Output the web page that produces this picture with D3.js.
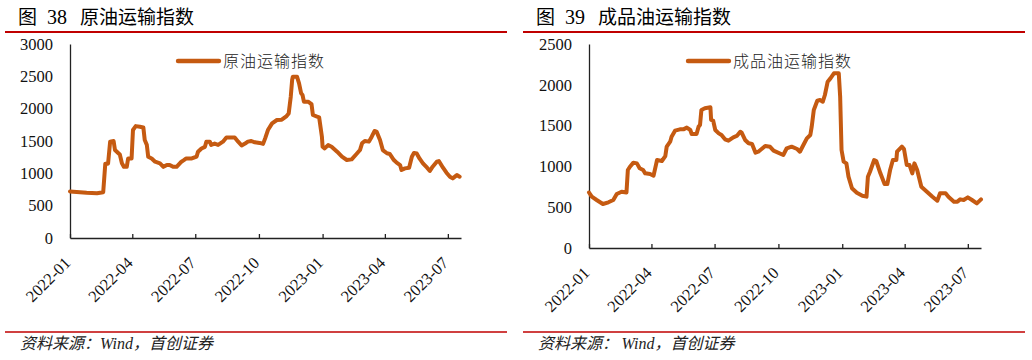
<!DOCTYPE html>
<html>
<head>
<meta charset="utf-8">
<script src="https://cdn.jsdelivr.net/npm/d3@7"></script>
<style>
  body { margin: 0; background: #fff; }
  .axis path, .axis line { stroke: #222; stroke-width: 1.3px; }
  .axis text { font-family: "Liberation Serif", serif; font-size: 16.5px; fill: #111; }
</style>
</head>
<body>
<svg id="chart" width="1032" height="360"></svg>
<script>
// Crude oil transport index (left panel)
var crudeDates = ["2022-01-01","2022-01-25","2022-02-09","2022-02-18","2022-02-21","2022-02-25","2022-02-28","2022-03-05","2022-03-07","2022-03-12",
  "2022-03-14","2022-03-17","2022-03-20","2022-03-24","2022-03-26","2022-03-31","2022-04-02","2022-04-06","2022-04-12","2022-04-17",
  "2022-04-19","2022-04-22","2022-04-24","2022-04-29","2022-05-04","2022-05-11","2022-05-16","2022-05-21","2022-05-25","2022-05-30",
  "2022-06-04","2022-06-11","2022-06-14","2022-06-18","2022-06-26","2022-07-03","2022-07-05","2022-07-10","2022-07-15","2022-07-17",
  "2022-07-22","2022-07-24","2022-07-29","2022-08-03","2022-08-10","2022-08-15","2022-08-22","2022-08-27","2022-09-01","2022-09-06",
  "2022-09-11","2022-09-15","2022-09-20","2022-09-25","2022-10-02","2022-10-07","2022-10-10","2022-10-14","2022-10-20","2022-10-27",
  "2022-11-03","2022-11-10","2022-11-13","2022-11-16","2022-11-18","2022-11-19","2022-11-25","2022-11-28","2022-12-01","2022-12-03",
  "2022-12-05","2022-12-11","2022-12-16","2022-12-18","2022-12-24","2022-12-27","2022-12-31","2023-01-01","2023-01-04","2023-01-09",
  "2023-01-14","2023-01-22","2023-01-29","2023-02-05","2023-02-12","2023-02-19","2023-02-24","2023-02-27","2023-03-03","2023-03-09",
  "2023-03-13","2023-03-17","2023-03-20","2023-03-25","2023-03-29","2023-04-04","2023-04-08","2023-04-14","2023-04-18","2023-04-23",
  "2023-04-25","2023-04-30","2023-05-06","2023-05-10","2023-05-13","2023-05-17","2023-05-21","2023-05-26","2023-06-01","2023-06-05",
  "2023-06-09","2023-06-15","2023-06-18","2023-06-24","2023-06-29","2023-07-04","2023-07-08","2023-07-14","2023-07-18"];
var crudeValues = [720,700,693,708,1150,1150,1490,1500,1360,1310,
  1290,1155,1100,1100,1230,1230,1670,1730,1720,1710,
  1515,1440,1257,1230,1180,1155,1100,1130,1130,1100,
  1100,1180,1200,1230,1230,1260,1335,1385,1410,1490,
  1490,1440,1460,1440,1490,1555,1555,1555,1490,1430,
  1460,1490,1500,1480,1470,1455,1540,1670,1773,1825,
  1830,1886,1925,2185,2443,2494,2494,2392,2237,2211,
  2108,2108,2070,1902,1877,1866,1567,1411,1385,1437,
  1411,1335,1257,1206,1216,1299,1360,1464,1500,1490,
  1567,1654,1645,1515,1360,1310,1300,1206,1165,1128,
  1051,1077,1087,1257,1316,1306,1230,1155,1087,1036,
  1103,1180,1190,1087,1010,948,922,973,948];

// Refined products transport index (right panel)
var productDates = ["2022-01-01","2022-01-05","2022-01-12","2022-01-21","2022-01-29","2022-02-05","2022-02-10","2022-02-17","2022-02-24","2022-02-26",
  "2022-03-01","2022-03-06","2022-03-11","2022-03-15","2022-03-20","2022-03-23","2022-03-30","2022-04-04","2022-04-08","2022-04-09",
  "2022-04-16","2022-04-21","2022-04-23","2022-04-28","2022-04-30","2022-05-05","2022-05-12","2022-05-17","2022-05-22","2022-05-27",
  "2022-05-29","2022-06-05","2022-06-08","2022-06-10","2022-06-12","2022-06-17","2022-06-25","2022-06-26","2022-06-29","2022-07-02",
  "2022-07-07","2022-07-11","2022-07-16","2022-07-21","2022-07-28","2022-08-02","2022-08-07","2022-08-09","2022-08-14","2022-08-19",
  "2022-08-24","2022-08-29","2022-09-02","2022-09-12","2022-09-19","2022-09-24","2022-10-08","2022-10-13","2022-10-20","2022-10-28",
  "2022-11-01","2022-11-06","2022-11-11","2022-11-16","2022-11-18","2022-11-21","2022-11-26","2022-11-30","2022-12-04","2022-12-07",
  "2022-12-11","2022-12-15","2022-12-20","2022-12-27","2022-12-29","2022-12-31","2023-01-03","2023-01-07","2023-01-10","2023-01-15",
  "2023-01-22","2023-01-30","2023-02-05","2023-02-07","2023-02-10","2023-02-16","2023-02-19","2023-02-25","2023-03-03","2023-03-07",
  "2023-03-11","2023-03-15","2023-03-20","2023-03-21","2023-03-28","2023-03-31","2023-04-04","2023-04-08","2023-04-12","2023-04-15",
  "2023-04-19","2023-04-25","2023-05-03","2023-05-11","2023-05-18","2023-05-22","2023-05-30","2023-06-03","2023-06-11","2023-06-16",
  "2023-06-20","2023-06-25","2023-07-01","2023-07-07","2023-07-14","2023-07-20"];
var productValues = [680,629,588,539,560,588,662,690,680,956,
  996,1046,1037,977,956,915,907,886,1037,1078,
  1066,1127,1242,1303,1364,1438,1454,1454,1475,1446,
  1397,1397,1487,1507,1691,1712,1724,1569,1560,1446,
  1405,1385,1332,1315,1356,1373,1425,1413,1324,1283,
  1275,1168,1180,1250,1240,1193,1140,1222,1242,1213,
  1180,1262,1344,1385,1487,1691,1805,1813,1793,1875,
  2038,2079,2141,2141,1854,1201,1058,1037,874,732,
  678,641,629,874,935,1078,1066,915,784,784,
  956,1078,1078,1180,1242,1213,1017,1017,915,1037,
  956,751,690,629,580,670,670,629,568,568,
  596,588,621,588,547,596];

// Axis ticks
var quarterTicks = ["2022-01-01","2022-04-01","2022-07-01","2022-10-01","2023-01-01","2023-04-01","2023-07-01"];
var crudeYTicks = [0, 500, 1000, 1500, 2000, 2500, 3000];
var productYTicks = [0, 500, 1000, 1500, 2000, 2500];

var parseDate = d3.timeParse("%Y-%m-%d");
var lineColor = "#C55A11";
var redColor = "#C00000";

var svg = d3.select("#chart");

// Draw one panel: title, frame lines, axes, series, legend and source
function drawPanel(p) {
  var x = d3.scaleTime()
      .domain([parseDate("2022-01-01"), parseDate("2023-07-20")])
      .range([p.left, p.right]);
  var y = d3.scaleLinear()
      .domain([0, p.yMax])
      .range([p.bottom, p.top]);

  // Title
  var t = svg.append("g");
  t.append("text").attr("x", p.ox + 18).attr("y", 24)
      .style("font-family", "'Noto Sans CJK SC'").style("font-size", "19px").text("图");
  t.append("text").attr("x", p.ox + 47).attr("y", 24)
      .style("font-family", "'Liberation Serif'").style("font-size", "20px").text(p.num);
  t.append("text").attr("x", p.ox + p.titleX).attr("y", 24)
      .style("font-family", "'Noto Sans CJK SC'").style("font-size", "19px").text(p.title);

  // Red rules
  svg.append("line").attr("x1", p.ox + 5).attr("x2", p.ox + 507)
      .attr("y1", 32).attr("y2", 32).attr("stroke", redColor).attr("stroke-width", 2);
  svg.append("line").attr("x1", p.ox + 5).attr("x2", p.ox + 507)
      .attr("y1", 332).attr("y2", 332).attr("stroke", redColor).attr("stroke-width", 1.6);

  // Y axis
  svg.append("g")
      .attr("class", "axis")
      .attr("transform", "translate(" + p.left + ",0)")
      .call(d3.axisLeft(y).tickValues(p.yTicks).tickSize(0).tickPadding(17).tickFormat(d3.format("d")));

  // X axis
  var xa = svg.append("g")
      .attr("class", "axis")
      .attr("transform", "translate(0," + p.bottom + ")")
      .call(d3.axisBottom(x)
        .tickValues(quarterTicks.map(parseDate))
        .tickSizeInner(-4).tickSizeOuter(0)
        .tickFormat(d3.timeFormat("%Y-%m")));
  xa.selectAll("text")
      .attr("x", 0).attr("y", 0).attr("dy", 0)
      .attr("text-anchor", "end")
      .attr("transform", "translate(1,26) rotate(-45)");

  // Series
  var data = p.dates.map(function(d, i) { return {date: parseDate(d), value: p.values[i]}; });
  svg.append("path")
      .datum(data)
      .attr("fill", "none")
      .attr("stroke", lineColor)
      .attr("stroke-width", 4)
      .attr("stroke-linejoin", "round")
      .attr("stroke-linecap", "round")
      .attr("d", d3.line()
        .x(function(d) { return x(d.date); })
        .y(function(d) { return y(d.value); }));

  // Legend
  svg.append("line")
      .attr("x1", p.ox + p.legendX).attr("x2", p.ox + p.legendX + 41)
      .attr("y1", 61).attr("y2", 61)
      .attr("stroke", lineColor).attr("stroke-width", 4.4).attr("stroke-linecap", "round");
  svg.append("text")
      .attr("x", p.ox + p.legendX + 45).attr("y", 66.5)
      .style("font-family", "'Noto Sans CJK SC'").style("font-size", "16px")
      .style("font-weight", 300).style("fill", "#222")
      .style("letter-spacing", "1px")
      .text(p.title);

  // Source
  var s = svg.append("text")
      .attr("x", p.ox + 20).attr("y", 349)
      .style("font-style", "italic").style("font-size", "16px").style("fill", "#222");
  s.append("tspan").style("font-family", "'Noto Sans CJK SC'").text("资料来源：" + p.gap);
  s.append("tspan").style("font-family", "'Liberation Serif'").text("Wind");
  s.append("tspan").style("font-family", "'Noto Sans CJK SC'").text("，首创证券");
}

drawPanel({
  ox: 0, num: "38", title: "原油运输指数", titleX: 80,
  left: 70, right: 461, top: 44, bottom: 238,
  yMax: 3000, yTicks: crudeYTicks, legendX: 178,
  dates: crudeDates, values: crudeValues, gap: ""
});

drawPanel({
  ox: 518, num: "39", title: "成品油运输指数", titleX: 80,
  left: 589, right: 981, top: 44, bottom: 248,
  yMax: 2500, yTicks: productYTicks, legendX: 170,
  dates: productDates, values: productValues, gap: "  "
});
</script>
</body>
</html>
